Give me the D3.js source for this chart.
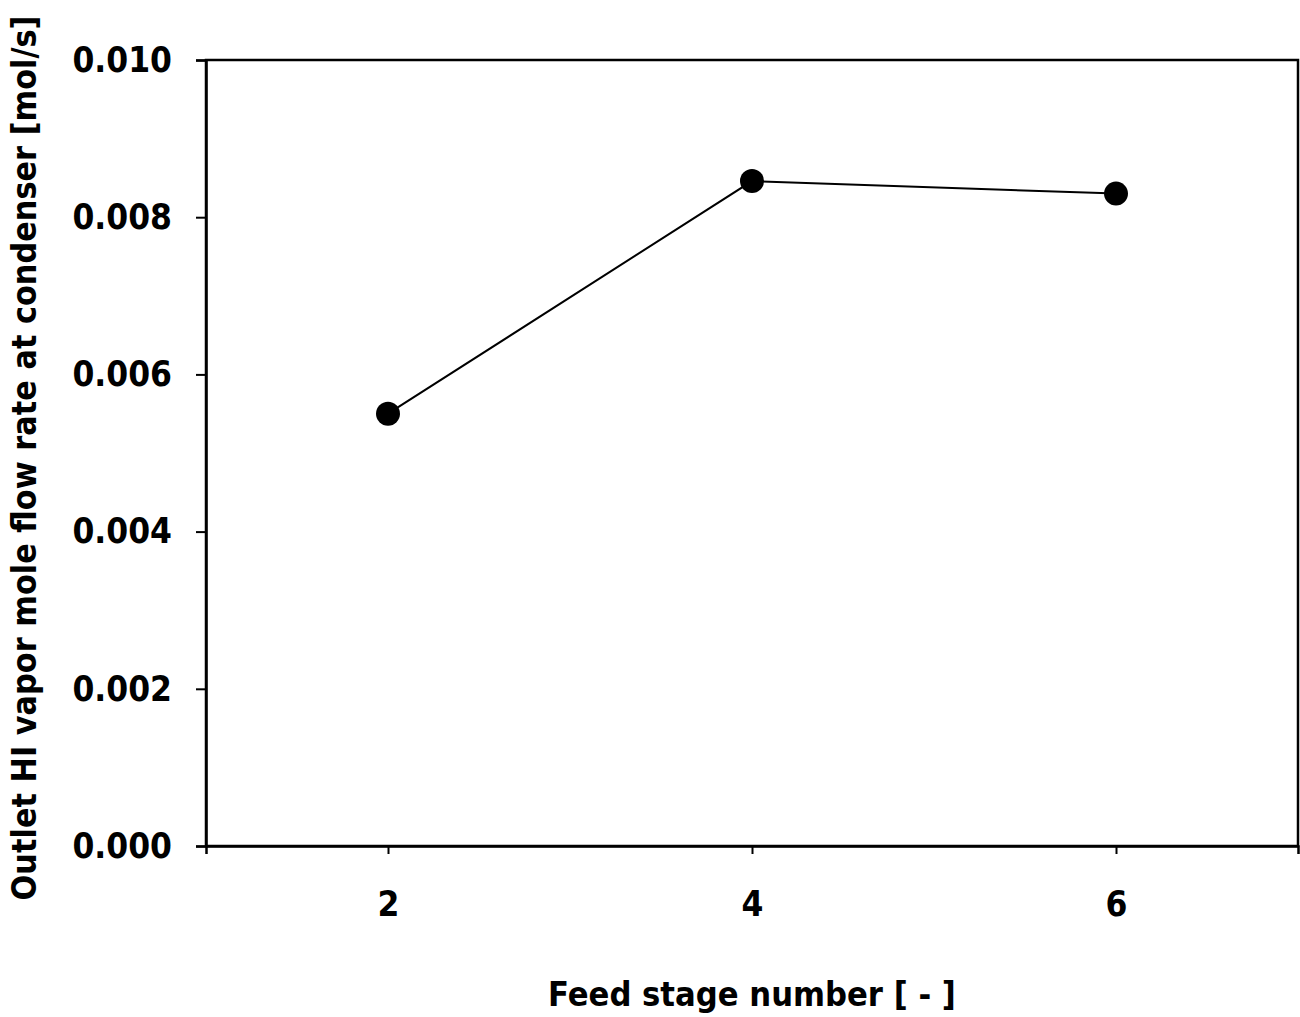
<!DOCTYPE html>
<html>
<head>
<meta charset="utf-8">
<script src="https://cdn.jsdelivr.net/npm/d3@7"></script>
<style>
  body { margin: 0; background: #fff; }
  text { font-family: "DejaVu Sans", sans-serif; font-stretch: condensed; font-weight: bold; fill: #000; }
</style>
</head>
<body>
<div id="chart"></div>
<script>
// feed stage vs outlet HI vapor flow
const stages = [2, 4, 6];
const flowRates = [0.0055, 0.00846, 0.0083];
const yTicks = [0, 0.002, 0.004, 0.006, 0.008, 0.010];
const xTicks = [2, 4, 6];

var W = 1300, H = 1017;
var margin = {top: 60, right: 2, bottom: 171, left: 206},
  width = W - margin.left - margin.right,
  height = H - margin.top - margin.bottom;

var svg = d3.select("#chart").append("svg")
  .attr("width", W)
  .attr("height", H)
  .append("g")
  .attr("transform", "translate(" + margin.left + "," + margin.top + ")");

var x = d3.scaleLinear().domain([1, 7]).range([0, width]);
var y = d3.scaleLinear().domain([0, 0.010]).range([height, 0]);

// frame
svg.append("rect")
  .attr("x", 0).attr("y", 0)
  .attr("width", width).attr("height", height)
  .attr("fill", "none")
  .attr("stroke", "#000")
  .attr("stroke-width", 2.5);

var xAxis = svg.append("g")
  .attr("transform", "translate(0," + height + ")")
  .call(d3.axisBottom(x).tickValues(xTicks).tickSize(8).tickPadding(37).tickFormat(d3.format("d")));

var yAxis = svg.append("g")
  .call(d3.axisLeft(y).tickValues(yTicks).tickSize(10).tickPadding(24).tickFormat(d3.format(".3f")));

[xAxis, yAxis].forEach(function(g) {
  g.select(".domain").attr("stroke-width", 2.5);
  g.selectAll(".tick line").attr("stroke-width", 2);
  g.selectAll("text").style("font-size", "35px");
});

// line + markers
var line = d3.line()
  .x(function(d, i) { return x(stages[i]); })
  .y(function(d) { return y(d); });

svg.append("path")
  .datum(flowRates)
  .attr("d", line)
  .attr("fill", "none")
  .attr("stroke", "#000")
  .attr("stroke-width", 2);

svg.selectAll(".dot")
  .data(flowRates)
  .enter()
  .append("circle")
  .attr("class", "dot")
  .attr("cx", function(d, i) { return x(stages[i]); })
  .attr("cy", function(d) { return y(d); })
  .attr("r", 12)
  .attr("fill", "#000");

// shrink font until text fits the wanted length
function fitText(sel, target, base) {
  sel.style("font-size", base + "px");
  var len = sel.node().getComputedTextLength();
  if (len > target) sel.style("font-size", (base * target / len) + "px");
}

// axis labels
var xLab = svg.append("text")
  .attr("x", x(4))
  .attr("y", height + 160)
  .style("text-anchor", "middle")
  .text("Feed stage number [ - ]");
fitText(xLab, 408, 41);

var yLab = svg.append("text")
  .attr("transform", "rotate(-90)")
  .attr("x", -(458 - margin.top))
  .attr("y", -170)
  .style("text-anchor", "middle")
  .text("Outlet HI vapor mole flow rate at condenser [mol/s]");
fitText(yLab, 885, 41);
</script>
</body>
</html>
